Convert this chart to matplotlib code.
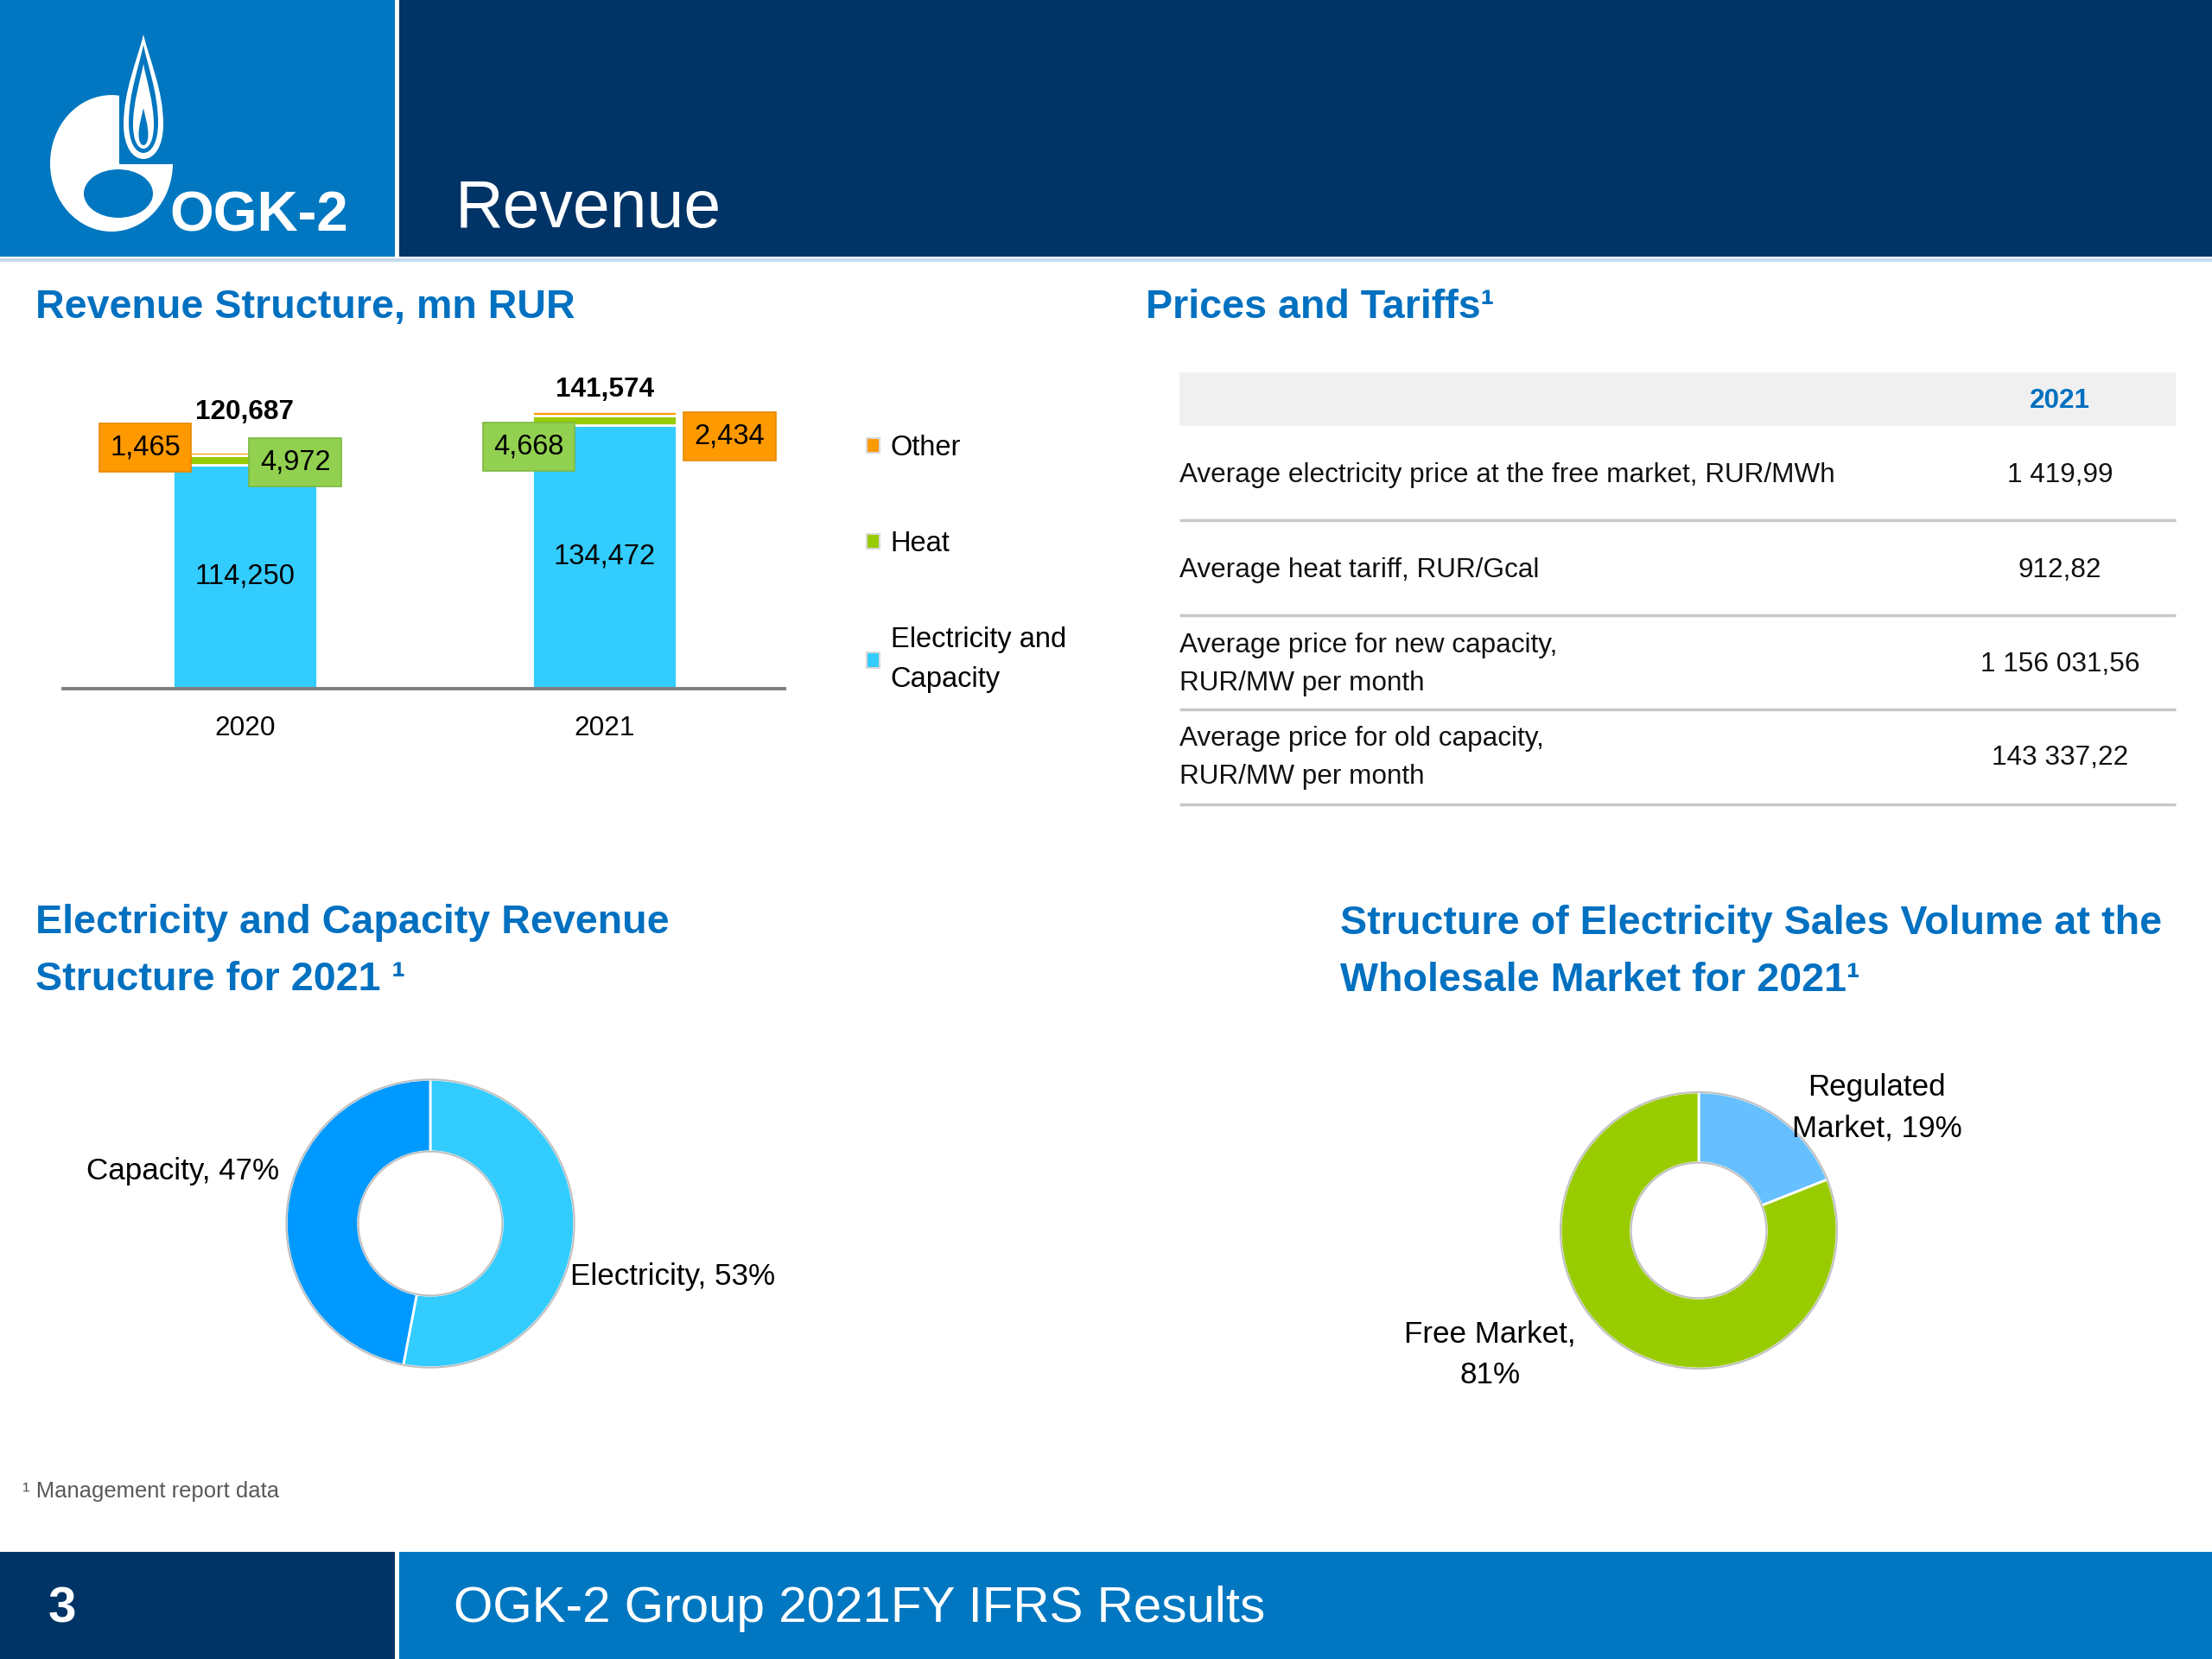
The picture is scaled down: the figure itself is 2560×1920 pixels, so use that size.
import matplotlib
matplotlib.use("Agg")
import matplotlib.pyplot as plt
from matplotlib import font_manager as fm
from matplotlib.patches import Rectangle, Ellipse, PathPatch, Patch, Circle
from matplotlib.path import Path

# ---------------- data ----------------
years = ["2020", "2021"]
elec_capacity = [114250, 134472]
heat = [4972, 4668]
other = [1465, 2434]
series_names = ["Other", "Heat", "Electricity and\nCapacity"]

table_header = "2021"
table_labels = [
    "Average electricity price at the free market, RUR/MWh",
    "Average heat tariff, RUR/Gcal",
    "Average price for new capacity,\nRUR/MW per month",
    "Average price for old capacity,\nRUR/MW per month",
]
table_values = ["1 419,99", "912,82", "1 156 031,56", "143 337,22"]

donut1_labels = ["Electricity", "Capacity"]
donut1_values = [53, 47]
donut2_labels = ["Regulated\nMarket", "Free Market,\n"]
donut2_values = [19, 81]

# ---------------- style ----------------
W, H = 2560, 1920
names = {f.name for f in fm.fontManager.ttflist}
if "Liberation Sans Narrow" in names:
    FONT, K = "Liberation Sans Narrow", 1.0
else:
    FONT, K = "Liberation Sans", 0.84
plt.rcParams["font.family"] = [FONT, "DejaVu Sans"]


def fs(v):
    return v * K


NAVY = "#003366"
BLUE = "#0077C0"
TITLE = "#0070C0"
C_ELEC = "#33CCFF"
C_HEAT = "#99CC00"
C_OTHER = "#FF9900"

fig = plt.figure(figsize=(25.6, 19.2), dpi=100)
fig.patch.set_facecolor("white")

# background axes in pixel coordinates (y downward)
ax0 = fig.add_axes([0, 0, 1, 1], zorder=0)
ax0.set_xlim(0, W)
ax0.set_ylim(H, 0)
ax0.axis("off")

# header
ax0.add_patch(Rectangle((0, 0), 457, 297, color=BLUE, lw=0))
ax0.add_patch(Rectangle((462, 0), W - 462, 297, color=NAVY, lw=0))
ax0.add_patch(Rectangle((0, 299), W, 4, color="#C5D9EE", lw=0))
ax0.text(527, 263, "Revenue", color="white", fontsize=fs(66), va="baseline", ha="left")

# logo
ax0.add_patch(Ellipse((129, 189), 142, 158, color="white", lw=0))
ax0.add_patch(Rectangle((138, 95), 90, 95, color=BLUE, lw=0))
ax0.add_patch(Ellipse((137, 224), 80, 56, color=BLUE, lw=0))


def teardrop(cx, top, bottom, hw):
    L = bottom - top
    verts = [
        (cx, top),
        (cx + 0.3 * hw, top + 0.2 * L), (cx + hw, top + 0.45 * L), (cx + hw, top + 0.72 * L),
        (cx + hw, top + 0.9 * L), (cx + 0.55 * hw, bottom), (cx, bottom),
        (cx - 0.55 * hw, bottom), (cx - hw, top + 0.9 * L), (cx - hw, top + 0.72 * L),
        (cx - hw, top + 0.45 * L), (cx - 0.3 * hw, top + 0.2 * L), (cx, top),
        (cx, top),
    ]
    codes = [Path.MOVETO] + [Path.CURVE4] * 12 + [Path.CLOSEPOLY]
    return Path(verts, codes)


ax0.add_patch(PathPatch(teardrop(166, 40, 184, 23), fc="white", lw=0))
ax0.add_patch(PathPatch(teardrop(166, 52, 177, 17), fc=BLUE, lw=0))
ax0.add_patch(PathPatch(teardrop(166, 74, 172, 12), fc="white", lw=0))
ax0.add_patch(PathPatch(teardrop(166, 125, 168, 5.5), fc=BLUE, lw=0))
ax0.text(196, 268, "OGK-2", color="white", fontsize=fs(56), fontweight="bold",
         va="baseline", ha="left")

# footer
ax0.add_patch(Rectangle((0, 1796), 457, H - 1796, color=NAVY, lw=0))
ax0.add_patch(Rectangle((462, 1796), W - 462, H - 1796, color=BLUE, lw=0))
ax0.text(56, 1862, "3", color="white", fontsize=fs(50), fontweight="bold", va="center", ha="left")
ax0.text(525, 1862, "OGK-2 Group 2021FY IFRS Results", color="white", fontsize=fs(50),
         va="center", ha="left")
ax0.text(26, 1726, "¹ Management report data", color="#595959", fontsize=fs(22),
         va="center", ha="left")

# section titles
ax0.text(41, 356, "Revenue Structure, mn RUR", color=TITLE, fontsize=fs(40),
         fontweight="bold", va="center", ha="left")
ax0.text(1326, 356, "Prices and Tariffs¹", color=TITLE, fontsize=fs(40),
         fontweight="bold", va="center", ha="left")
ax0.text(41, 1101, "Electricity and Capacity Revenue\nStructure for 2021 ¹", color=TITLE,
         fontsize=fs(40), fontweight="bold", va="center", ha="left", linespacing=1.62)
ax0.text(1551, 1102, "Structure of Electricity Sales Volume at the\nWholesale Market for 2021¹",
         color=TITLE, fontsize=fs(40), fontweight="bold", va="center", ha="left",
         linespacing=1.62)

# table
ax0.add_patch(Rectangle((1365, 431), 2518 - 1365, 62, color="#F0F0F0", lw=0))
ax0.text(2384, 464, table_header, color=TITLE, fontsize=fs(27), fontweight="bold",
         ha="center", va="center")
row_centers = [550, 660, 769, 877]
row_rules = [602, 712, 821, 931]
for lab, val, yc, yr in zip(table_labels, table_values, row_centers, row_rules):
    ax0.text(1365, yc, lab, fontsize=fs(27), ha="left", va="center", linespacing=1.62,
             color="#111111")
    ax0.text(2384, yc, val, fontsize=fs(27), ha="center", va="center", color="#111111")
    ax0.plot([1365, 2518], [yr, yr], color="#C8C8C8", lw=2.5, solid_capstyle="butt")

# ---------------- stacked bar chart ----------------
axb = fig.add_axes([73 / W, 1 - 797 / H, (908 - 73) / W, 397 / H], zorder=1)
axb.patch.set_visible(False)
x = list(range(len(years)))
bw = 0.4
axb.bar(x, elec_capacity, bw, color=C_ELEC, edgecolor="white", lw=2)
axb.bar(x, heat, bw, bottom=elec_capacity, color=C_HEAT, edgecolor="white", lw=2)
base3 = [e + h for e, h in zip(elec_capacity, heat)]
axb.bar(x, other, bw, bottom=base3, color=C_OTHER, edgecolor="white", lw=2)
axb.set_xlim(-0.505, 1.5)
axb.set_ylim(0, 175000)
for s in ["top", "left", "right"]:
    axb.spines[s].set_visible(False)
axb.spines["bottom"].set_color("#808080")
axb.spines["bottom"].set_linewidth(2.8)
axb.set_yticks([])
axb.set_xticks(x)
axb.set_xticklabels(years, fontsize=fs(27))
axb.tick_params(axis="x", length=0, pad=22)

totals = [e + h + o for e, h, o in zip(elec_capacity, heat, other)]
total_offsets = [33, 18]
for xi, t, off in zip(x, totals, total_offsets):
    axb.annotate(f"{t:,}", (xi, t), xytext=(0, off), textcoords="offset points",
                 ha="center", va="center", fontsize=fs(27), fontweight="bold")
for xi, e in zip(x, elec_capacity):
    axb.text(xi, e / 2, f"{e:,}", ha="center", va="center", fontsize=fs(28))

box_specs = [
    # (value, segment bottom, box color, edge, offset in points)
    (other[0], base3[0], "#FF9900", "#E58A00", (-83, 5)),
    (heat[0], elec_capacity[0], "#92D050", "#7DB843", (42, -2)),
    (heat[1], elec_capacity[1], "#92D050", "#7DB843", (-63, -22)),
    (other[1], base3[1], "#FF9900", "#E58A00", (104, -19)),
]
box_x = [0, 0, 1, 1]
for xi, (v, bottom, fc, ec, off) in zip(box_x, box_specs):
    axb.annotate(f"{v:,}", (xi, bottom + v / 2), xytext=off, textcoords="offset points",
                 ha="center", va="center", fontsize=fs(28),
                 bbox=dict(boxstyle="square,pad=0.38", fc=fc, ec=ec, lw=1.2))

handles = [Patch(fc=C_OTHER, ec="#D9D9D9", lw=1.5),
           Patch(fc=C_HEAT, ec="#D9D9D9", lw=1.5),
           Patch(fc=C_ELEC, ec="#D9D9D9", lw=1.5)]
leg = axb.legend(handles, series_names, loc="upper left",
                 bbox_to_anchor=(1003 / W, 1 - 503 / H),
                 bbox_transform=fig.transFigure, frameon=False, fontsize=fs(28),
                 handlelength=0.45, handleheight=0.45, handletextpad=0.4,
                 labelspacing=2.45, borderpad=0, borderaxespad=0)
for t in leg.get_texts():
    t.set_linespacing(1.62)

# ---------------- donut 1 ----------------
S = 400
ax1 = fig.add_axes([(498 - S / 2) / W, 1 - (1416 + S / 2) / H, S / W, S / H], zorder=1)
ax1.pie(donut1_values, colors=[C_ELEC, "#0099FF"], startangle=90, counterclock=False,
        radius=1, wedgeprops=dict(width=0.5, edgecolor="white", linewidth=2))
ax1.add_patch(Circle((0, 0), 1, fill=False, ec="#C0C0C0", lw=1.5))
ax1.add_patch(Circle((0, 0), 0.5, fill=False, ec="#C0C0C0", lw=1.5))
ax1.set_xlim(-1.2, 1.2)
ax1.set_ylim(-1.2, 1.2)
ax1.set_aspect("equal")
ax1.axis("off")
ax1.text(0.97, -0.37, f"{donut1_labels[0]}, {donut1_values[0]}%", fontsize=fs(30),
         ha="left", va="center", clip_on=False)
ax1.text(-1.05, 0.366, f"{donut1_labels[1]}, {donut1_values[1]}%", fontsize=fs(30),
         ha="right", va="center", clip_on=False)

# ---------------- donut 2 ----------------
ax2 = fig.add_axes([(1966 - S / 2) / W, 1 - (1424 + S / 2) / H, S / W, S / H], zorder=1)
ax2.pie(donut2_values, colors=["#66BFFF", C_HEAT], startangle=90, counterclock=False,
        radius=1, wedgeprops=dict(width=0.51, edgecolor="white", linewidth=2))
ax2.add_patch(Circle((0, 0), 1, fill=False, ec="#C0C0C0", lw=1.5))
ax2.add_patch(Circle((0, 0), 0.49, fill=False, ec="#C0C0C0", lw=1.5))
ax2.set_xlim(-1.25, 1.25)
ax2.set_ylim(-1.25, 1.25)
ax2.set_aspect("equal")
ax2.axis("off")
ax2.text(1.29, 0.885, f"{donut2_labels[0]}, {donut2_values[0]}%", fontsize=fs(30),
         ha="center", va="center", linespacing=1.55, clip_on=False)
ax2.text(-1.51, -0.9, f"{donut2_labels[1]}{donut2_values[1]}%", fontsize=fs(30),
         ha="center", va="center", linespacing=1.55, clip_on=False)

fig.savefig("out.png", dpi=100, facecolor="white")
